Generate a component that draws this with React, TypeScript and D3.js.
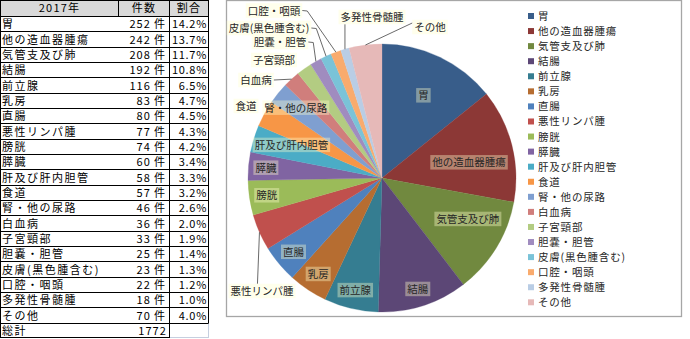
import React from 'react';
import * as d3 from 'd3';

const categories = ['胃','他の造血器腫瘍','気管支及び肺','結腸','前立腺','乳房','直腸','悪性リンパ腫','膀胱','膵臓','肝及び肝内胆管','食道','腎・他の尿路','白血病','子宮頸部','胆嚢・胆管','皮膚(黒色腫含む)','口腔・咽頭','多発性骨髄腫','その他'];
const counts = [252,242,208,192,116,83,80,77,74,60,58,57,46,36,33,25,23,22,18,70];
const percents = ['14.2%','13.7%','11.7%','10.8%','6.5%','4.7%','4.5%','4.3%','4.2%','3.4%','3.3%','3.2%','2.6%','2.0%','1.9%','1.4%','1.3%','1.2%','1.0%','4.0%'];
const total = 1772;
const headers = ['2017年','件数','割合'];
const totalLabel = '総計';
const unit = '件';

const colors = ['#385d8a','#8c3836','#71893f','#5c4776','#357d91','#b66d31','#4f81bd','#c0504d','#9bbb59','#8064a2','#4bacc6','#f79646','#7f9fd0','#d07e7c','#b3cc82','#a08cbf','#7ac3d8','#f9ab6d','#b9cde5','#e6b9b8'];

// label layout (inside: radius factor + angle tweak; outside: offset from centre in px + leader type)
type Lay = { r?: number; da?: number; x?: number; y?: number; leader?: string };
const labelLayout: Lay[] = [
  { r: 0.69, da: 1 }, { r: 0.66, da: 4 }, { r: 0.71, da: -6 }, { r: 0.87 }, { r: 0.86 }, { r: 0.86 }, { r: 0.86 },
  { x: -120, y: 113, leader: 'down' },
  { r: 0.87 }, { r: 0.87 }, { r: 0.72, da: 3 },
  { x: -136, y: -72 },
  { r: 0.83 },
  { x: -126, y: -98, leader: 'right' },
  { x: -108, y: -118 },
  { x: -102, y: -136, leader: 'elbow' },
  { x: -113, y: -150, leader: 'elbow' },
  { x: -108, y: -167.5, leader: 'elbow' },
  { x: -10, y: -161, leader: 'up' },
  { x: 48, y: -151, leader: 'left' },
];

const FONT = "'Noto Sans CJK JP', 'Noto Sans', sans-serif";
let ctx: CanvasRenderingContext2D | null = null;
function measure(t: string, size: number) {
  if (!ctx) ctx = document.createElement('canvas').getContext('2d');
  if (!ctx) return t.length * size;
  ctx.font = `${size}px ${FONT}`;
  return ctx.measureText(t).width;
}

export default function App() {
  const W = 690, H = 339;
  const cx = 382, cy = 178, R = 134;
  const pie = d3.pie<number>().sort(null).value(d => d)(counts);
  const arc = d3.arc<d3.PieArcDatum<number>>().innerRadius(0).outerRadius(R);

  // table geometry: header + one row per category + total row
  const tX0 = 0.5, tX1 = 118.5, tX2 = 169.5, tX3 = 208.5;
  const headH = 16;
  const nRows = categories.length + 1;
  const rowBot = d3.scaleLinear().domain([0, nRows]).range([headH, 338]);

  const legendY = d3.scaleLinear().domain([0, categories.length - 1]).range([16, 302.3]);

  const labFs = 10.5;
  const tFs = 11;
  const snap = (v: number) => Math.round(v) + 0.5;

  return (
    <svg width={W} height={H} style={{ position: 'fixed', left: 0, top: 0, background: '#fff' }} fontFamily={FONT}>
      {/* table */}
      <g>
        <rect x={tX0} y={0.5} width={tX3 - tX0} height={headH} fill="#d9d9d9" />
        <text x={(tX0 + tX1) / 2} y={12} fontSize={tFs} textAnchor="middle" fill="#000" letterSpacing={1.2}>{headers[0]}</text>
        <text x={(tX1 + tX2) / 2} y={12} fontSize={tFs} textAnchor="middle" fill="#000" letterSpacing={1.2}>{headers[1]}</text>
        <text x={(tX2 + tX3) / 2} y={12} fontSize={tFs} textAnchor="middle" fill="#000" letterSpacing={1.2}>{headers[2]}</text>
        <line x1={tX1} x2={tX1} y1={0} y2={headH} stroke="#000" />
        {categories.map((c, i) => {
          const b = rowBot(i + 1);
          return (
            <g key={c}>
              <text x={2} y={b - 3} fontSize={tFs} letterSpacing={1.5} fill="#000">{c}</text>
              <text x={151} y={b - 3} fontSize={tFs} letterSpacing={1.1} textAnchor="end" fill="#000">{counts[i]}</text>
              <text x={154} y={b - 3} fontSize={tFs} fill="#000">{unit}</text>
              <text x={207} y={b - 3} fontSize={tFs} letterSpacing={0.7} textAnchor="end" fill="#000">{percents[i]}</text>
            </g>
          );
        })}
        <text x={2} y={rowBot(nRows) - 3} fontSize={tFs} letterSpacing={1.5} fill="#000">{totalLabel}</text>
        <text x={167} y={rowBot(nRows) - 3} fontSize={tFs} letterSpacing={1.1} textAnchor="end" fill="#000">{total}</text>
        {d3.range(0, nRows).map(i => (
          <line key={'h' + i} x1={tX0} x2={tX3} y1={snap(rowBot(i))} y2={snap(rowBot(i))} stroke="#000" />
        ))}
        <line x1={tX0} x2={tX3} y1={0.5} y2={0.5} stroke="#000" />
        <line x1={tX0} x2={tX2} y1={337.5} y2={337.5} stroke="#000" />
        <line x1={tX2} x2={tX3} y1={337.5} y2={337.5} stroke="#c6cfdf" />
        <line x1={tX3} x2={tX3} y1={snap(rowBot(nRows - 1))} y2={338} stroke="#c6cfdf" />
        <line x1={tX0} x2={tX0} y1={0} y2={338} stroke="#000" />
        <line x1={tX2} x2={tX2} y1={0} y2={338} stroke="#000" />
        <line x1={tX3} x2={tX3} y1={0} y2={snap(rowBot(nRows - 1))} stroke="#000" />
      </g>

      {/* chart frame */}
      <rect x={226.5} y={0.5} width={455} height={316} fill="#fff" stroke="#a6a6a6" strokeWidth={1.3} />

      {/* pie */}
      <g transform={`translate(${cx},${cy})`}>
        {pie.map((p, i) => (
          <path key={i} d={arc(p) || ''} fill={colors[i]} stroke={colors[i]} strokeWidth={0.3} />
        ))}
        {pie.map((p, i) => {
          const L = labelLayout[i];
          const mid = (p.startAngle + p.endAngle) / 2;
          const t = categories[i];
          const w = measure(t, labFs) + 4;
          const h = 14.5;
          let lx: number, ly: number;
          if (L.r !== undefined) {
            const a = mid + ((L.da || 0) * Math.PI) / 180;
            lx = Math.sin(a) * R * L.r;
            ly = -Math.cos(a) * R * L.r;
          } else {
            lx = L.x as number;
            ly = L.y as number;
          }
          const ex = Math.sin(mid) * R, ey = -Math.cos(mid) * R;
          let pts: [number, number][] | null = null;
          if (L.leader === 'down') pts = [[ex, ey], [ex - 2, ly - h / 2]];
          if (L.leader === 'right') pts = [[lx + w / 2, ly], [ex, ey]];
          if (L.leader === 'elbow') pts = [[lx + w / 2, ly], [lx + w / 2 + 5, ly + 0.5], [ex, ey]];
          if (L.leader === 'up') pts = [[ex, ly + h / 2], [ex, ey]];
          if (L.leader === 'left') pts = [[lx - w / 2, ly - 4], [ex, ey]];
          return (
            <g key={'l' + i}>
              {pts && <path d={d3.line()(pts) || ''} fill="none" stroke="#595959" strokeWidth={0.9} />}
              <rect x={lx - w / 2} y={ly - h / 2} width={w} height={h} fill="#ffffcc" fillOpacity={0.38} />
              <text x={lx} y={ly + 4} fontSize={labFs} textAnchor="middle" fill="#262626">{t}</text>
            </g>
          );
        })}
      </g>

      {/* legend */}
      <g>
        {categories.map((c, i) => (
          <g key={'lg' + i} transform={`translate(528,${legendY(i)})`}>
            <rect x={0} y={-3} width={6} height={6} fill={colors[i]} />
            <text x={10} y={4} fontSize={10.5} letterSpacing={0.8} fill="#262626">{c}</text>
          </g>
        ))}
      </g>
    </svg>
  );
}
